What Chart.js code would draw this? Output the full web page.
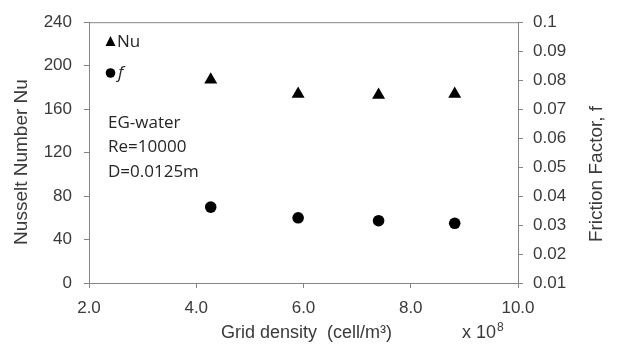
<!DOCTYPE html>
<html>
<head>
<meta charset="utf-8">
<script src="https://cdn.jsdelivr.net/npm/chart.js@4"></script>
<style>
  body { margin: 0; background: #fff; }
</style>
</head>
<body>
<canvas id="chart" width="617" height="347"></canvas>
<script>
// grid density, x 10^8 cell/m3
const gridDensity = [4.27, 5.9, 7.4, 8.82];
const nusselt = [187, 174, 173, 174];
const friction = [0.0362, 0.0325, 0.0315, 0.0306];

const xRange = [2, 10, 2];
const nuRange = [0, 240, 40];
const fRange = [0.01, 0.1, 0.01];

const notes = ['EG-water', 'Re=10000', 'D=0.0125m'];

const axisGrey = '#858585';
const textGrey = '#3a3a3a';
const tickFont = {family: 'Liberation Sans, Arial', size: 17};

function pts(xs, ys) {
	return xs.map((x, i) => ({x: x, y: ys[i]}));
}

// the bits Excel draws that chart.js doesn't: top frame, titles, legend, notes
const extras = {
	id: 'extras',
	afterDraw(chart) {
		const ctx = chart.ctx;
		const a = chart.chartArea;
		ctx.save();

		ctx.strokeStyle = axisGrey;
		ctx.lineWidth = 1;
		ctx.beginPath();
		ctx.moveTo(a.left, a.top + 0.5);
		ctx.lineTo(a.right, a.top + 0.5);
		ctx.stroke();

		ctx.fillStyle = textGrey;
		ctx.textAlign = 'center';
		ctx.textBaseline = 'middle';
		ctx.font = '19px Liberation Sans, Arial';

		ctx.save();
		ctx.translate(22, 162);
		ctx.rotate(-Math.PI / 2);
		ctx.fillText('Nusselt Number Nu', 0, 0);
		ctx.restore();

		ctx.save();
		ctx.translate(597, 174);
		ctx.rotate(-Math.PI / 2);
		ctx.fillText('Friction Factor, f', 0, 0);
		ctx.restore();

		ctx.font = '18px Liberation Sans, Arial';
		ctx.textBaseline = 'alphabetic';
		ctx.fillText('Grid density  (cell/m\u00b3)', (a.left + a.right) / 2 + 3, 338);

		ctx.textAlign = 'left';
		ctx.fillText('x 10', 462, 338);
		const w = ctx.measureText('x 10').width;
		ctx.font = '12px Liberation Sans, Arial';
		ctx.fillText('8', 462 + w + 1, 331);

		// legend
		ctx.fillStyle = '#000';
		ctx.beginPath();
		ctx.moveTo(110.5, 36);
		ctx.lineTo(115.5, 46);
		ctx.lineTo(105.5, 46);
		ctx.closePath();
		ctx.fill();
		ctx.beginPath();
		ctx.arc(110.5, 73, 4.8, 0, Math.PI * 2);
		ctx.fill();

		ctx.fillStyle = '#262626';
		ctx.font = '17px Open Sans';
		ctx.fillText('Nu', 117, 47);
		ctx.font = 'italic 17px Open Sans';
		ctx.fillText('f', 118, 78);

		ctx.font = '17px Open Sans';
		const base = [128, 152, 177];
		notes.forEach((t, i) => ctx.fillText(t, 108, base[i]));

		ctx.restore();
	}
};

new Chart(document.getElementById('chart'), {
	type: 'scatter',
	data: {
		datasets: [
			{
				label: 'Nu',
				data: pts(gridDensity, nusselt),
				yAxisID: 'y',
				pointStyle: 'triangle',
				pointRadius: 7.5,
				pointBorderWidth: 0,
				backgroundColor: '#000',
				borderColor: '#000'
			},
			{
				label: 'f',
				data: pts(gridDensity, friction),
				yAxisID: 'y1',
				pointStyle: 'circle',
				pointRadius: 5.8,
				pointBorderWidth: 0,
				backgroundColor: '#000',
				borderColor: '#000'
			}
		]
	},
	options: {
		responsive: false,
		animation: false,
		layout: {padding: {top: 15, left: 0, right: 0, bottom: 0}},
		plugins: {legend: {display: false}, tooltip: {enabled: false}},
		scales: {
			x: {
				type: 'linear',
				min: xRange[0], max: xRange[1],
				afterFit(s) { s.height = 64; },
				border: {display: true, color: axisGrey, width: 1},
				grid: {drawOnChartArea: false, drawTicks: true, tickLength: 5, color: axisGrey},
				ticks: {stepSize: xRange[2], padding: 10, color: textGrey, font: tickFont,
					callback: v => v.toFixed(1)}
			},
			y: {
				position: 'left',
				min: nuRange[0], max: nuRange[1],
				afterFit(s) { s.width = 89; },
				border: {display: true, color: axisGrey, width: 1},
				grid: {drawOnChartArea: false, drawTicks: true, tickLength: 5, color: axisGrey},
				ticks: {stepSize: nuRange[2], padding: 12, color: textGrey, font: tickFont}
			},
			y1: {
				position: 'right',
				min: fRange[0], max: fRange[1],
				afterFit(s) { s.width = 99; },
				border: {display: true, color: axisGrey, width: 1},
				grid: {drawOnChartArea: false, drawTicks: true, tickLength: 5, color: axisGrey},
				ticks: {stepSize: fRange[2], padding: 10, color: textGrey, font: tickFont,
					callback: v => String(+v.toFixed(2))}
			}
		}
	},
	plugins: [extras]
});
</script>
</body>
</html>
